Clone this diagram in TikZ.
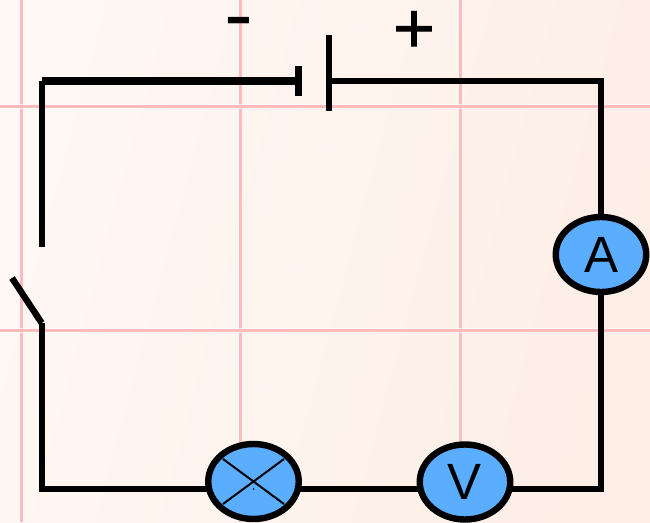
\documentclass[tikz,border=0pt]{standalone}
\usepackage{fontspec}
\setmainfont{Liberation Sans}
\newfontfamily\signfont{DejaVu Sans}
\newfontfamily\plusfont[FakeBold=2]{DejaVu Sans}
\usetikzlibrary{shapes.geometric}
\definecolor{bgleft}{HTML}{FFF8F4}
\definecolor{bgright}{HTML}{FDEEE6}
\definecolor{gridpink}{HTML}{FFBBBB}
\definecolor{meterblue}{HTML}{5BADFF}
\tikzset{
  x=1pt,y=-1pt,
  gridhalo/.style={line width=5.5pt,white,opacity=.55},
  gridline/.style={line width=3pt,gridpink},
  wire/.style={line width=6.4pt,black},
  thickwire/.style={line width=8pt,black},
  meter/.style={ellipse,draw=black,line width=6.4pt,fill=meterblue,minimum width=90.5pt,minimum height=75pt,inner sep=0pt,outer sep=0pt,font=\fontsize{51}{51}\selectfont},
  signtext/.style={inner sep=0pt,outer sep=0pt,anchor=base},
}
\begin{document}
\begin{tikzpicture}
\useasboundingbox (0,0) rectangle (650,522);
\shade[shading=axis,left color=bgleft,right color=bgright,shading angle=75] (0,0) rectangle (650,522);
\foreach \gx in {21,240.5,460}{
  \draw[gridhalo] (\gx,0) -- (\gx,522);
  \draw[gridline] (\gx,0) -- (\gx,522);
}
\foreach \gy in {106.5,330.5}{
  \draw[gridhalo] (0,\gy) -- (650,\gy);
  \draw[gridline] (0,\gy) -- (650,\gy);
}
% corners and terminals
\coordinate (tl) at (41.7,81);
\coordinate (tr) at (601,81);
\coordinate (bl) at (41.7,489);
\coordinate (br) at (601,489);
\coordinate (neg) at (298.5,81);
\coordinate (pos) at (329,81);
\coordinate (negtop) at (298.5,66);
\coordinate (negbot) at (298.5,96);
\coordinate (postop) at (329,35);
\coordinate (posbot) at (329,111);
\coordinate (swopen) at (41.7,247);
\coordinate (swhinge) at (41.7,323);
\coordinate (swblade) at (12,278);
% meters
\node[meter] (ammeter) at (601,254.5) {A};
\node[meter] (lamp) at (253.5,481.5) {};
\node[meter] (voltmeter) at (465,482) {V};
% wires
\draw[thickwire] (tl) -- (neg);
\draw[wire] (tl) -- (swopen);
\draw[wire] (swhinge) -- (swblade);
\draw[wire,line join=miter] (swhinge) -- (bl) -- (bl -| lamp.west);
\draw[wire] (bl -| lamp.east) -- (bl -| voltmeter.west);
\draw[wire,line join=miter] (br -| voltmeter.east) -- (br) -- (ammeter);
\draw[wire,line join=miter] (ammeter) -- (tr) -- (pos);
\draw[wire] (negtop) -- (negbot);
\draw[wire] (postop) -- (posbot);
% lamp cross
\draw[line width=2pt] ([shift={(-30.5,-22.5)}]lamp.center) -- ([shift={(30.5,22.5)}]lamp.center);
\draw[line width=2pt] ([shift={(30.5,-22.5)}]lamp.center) -- ([shift={(-30.5,22.5)}]lamp.center);
\fill ([shift={(0,7.5)}]lamp.center) circle (.8);
% signs
\node[signtext,font=\signfont\fontsize{80}{80}\selectfont] (minus) at (238.5,42.4) {-};
\node[signtext,font=\plusfont\fontsize{55}{55}\selectfont] (plus) at (414,46) {+};
\end{tikzpicture}
\end{document}
